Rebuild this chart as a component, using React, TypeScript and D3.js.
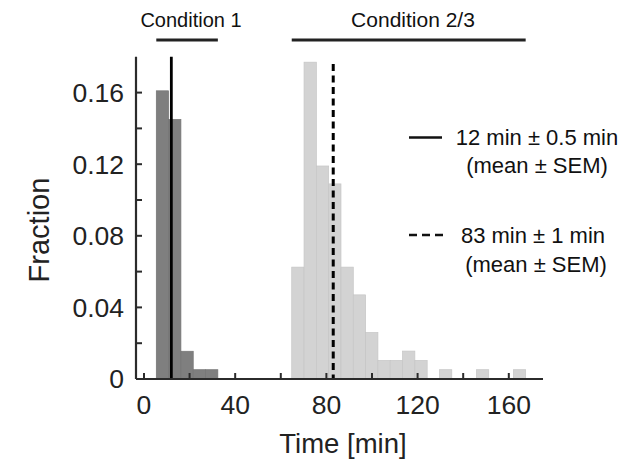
import React from "react";
import * as d3 from "d3";

const binWidth = 5.4;
// Condition 1 histogram: bin index (start = index * binWidth) and fraction
const cond1Bins = [1, 2, 3, 4, 5];
const cond1Values = [0.161, 0.145, 0.0155, 0.0052, 0.0052];
// Condition 2/3 histogram
const cond23Bins = [12, 13, 14, 15, 16, 17, 18, 19, 20, 21, 22, 23, 24, 25, 26, 27, 28, 29, 30];
const cond23Values = [0.0625, 0.177, 0.119, 0.109, 0.0625, 0.047, 0.026, 0.0104, 0.0104, 0.0156, 0.0104, 0, 0.0052, 0, 0, 0.0052, 0, 0, 0.0052];

const mean1 = 12;
const mean23 = 83;
const xTicksMajor = [0, 40, 80, 120, 160];
const xTicksMinor = [0, 20, 40, 60, 80, 100, 120, 140, 160];
const yTicksMajor = [0, 0.04, 0.08, 0.12, 0.16];
const yTicksMinor = [0, 0.02, 0.04, 0.06, 0.08, 0.1, 0.12, 0.14, 0.16];
const yTickLabels = ["0", "0.04", "0.08", "0.12", "0.16"];
const conditionLabels = ["Condition 1", "Condition 2/3"];
const legendLines = [
  ["12 min ± 0.5 min", "(mean ± SEM)"],
  ["83 min ± 1 min", "(mean ± SEM)"],
];

const W = 621;
const H = 469;
const FONT = "'Liberation Sans', Arial, Helvetica, sans-serif";

export default function App() {
  const x = d3.scaleLinear().domain([-3.5, 175]).range([136, 543]);
  const y = d3.scaleLinear().domain([0, 0.18]).range([379, 56.8]);
  const axisColor = "#2b2b2b";

  const bars = (bins: number[], vals: number[], fill: string, stroke: string) =>
    bins.map((b, i) =>
      vals[i] > 0 ? (
        <rect
          key={b}
          x={x(b * binWidth)}
          y={y(vals[i])}
          width={x((b + 1) * binWidth) - x(b * binWidth)}
          height={y(0) - y(vals[i])}
          fill={fill}
          stroke={stroke}
          strokeWidth={0.7}
        />
      ) : null
    );

  const c1Start = cond1Bins[0] * binWidth;
  const c1End = (cond1Bins[cond1Bins.length - 1] + 1) * binWidth;
  const c2Start = cond23Bins[0] * binWidth;
  const c2End = (cond23Bins[cond23Bins.length - 1] + 1) * binWidth;

  return (
    <svg
      width={W}
      height={H}
      style={{ position: "absolute", left: 0, top: 0, background: "#fff" }}
      fontFamily={FONT}
    >
      {bars(cond1Bins, cond1Values, "#7f7f7f", "#747474")}
      {bars(cond23Bins, cond23Values, "#d3d3d3", "#c6c6c6")}

      {/* mean lines */}
      <line x1={x(mean1)} x2={x(mean1)} y1={y(0.18)} y2={y(0)} stroke="#000" strokeWidth={2.8} />
      <line
        x1={x(mean23)}
        x2={x(mean23)}
        y1={y(0.176)}
        y2={y(0)}
        stroke="#000"
        strokeWidth={3}
        strokeDasharray="7,4.5"
      />

      {/* axes */}
      <line x1={x(-3.5)} x2={x(175)} y1={y(0)} y2={y(0)} stroke={axisColor} strokeWidth={2.2} />
      <line x1={x(-3.5)} x2={x(-3.5)} y1={y(0)} y2={y(0.18)} stroke={axisColor} strokeWidth={2.2} />
      {xTicksMinor.map((t) => (
        <line key={"xt" + t} x1={x(t)} x2={x(t)} y1={y(0)} y2={y(0) - 6} stroke={axisColor} strokeWidth={2} />
      ))}
      {yTicksMinor.map((t) => (
        <line key={"yt" + t} x1={x(-3.5)} x2={x(-3.5) + 6} y1={y(t)} y2={y(t)} stroke={axisColor} strokeWidth={2} />
      ))}
      {xTicksMajor.map((t) => (
        <text key={"xl" + t} x={x(t)} y={414} textAnchor="middle" fontSize={26.5} fill="#222">
          {t}
        </text>
      ))}
      {yTicksMajor.map((t, i) => (
        <text key={"yl" + t} x={124} y={y(t) + 9.4} textAnchor="end" fontSize={26.5} fill="#222">
          {yTickLabels[i]}
        </text>
      ))}
      <text x={343} y={453} textAnchor="middle" fontSize={27.5} fill="#222">
        Time [min]
      </text>
      <text transform="translate(49,230) rotate(-90)" textAnchor="middle" fontSize={29} fill="#222">
        Fraction
      </text>

      {/* condition brackets */}
      <line x1={x(c1Start)} x2={x(c1End)} y1={40} y2={40} stroke="#222" strokeWidth={3} />
      <line x1={x(c2Start)} x2={x(c2End)} y1={40} y2={40} stroke="#222" strokeWidth={3} />
      <text x={191} y={27} textAnchor="middle" fontSize={20} fill="#111">
        {conditionLabels[0]}
      </text>
      <text x={413} y={27} textAnchor="middle" fontSize={21} fill="#111">
        {conditionLabels[1]}
      </text>

      {/* legend */}
      <line x1={409} x2={442} y1={137.5} y2={137.5} stroke="#111" strokeWidth={2.5} />
      <text x={537} y={145} textAnchor="middle" fontSize={22} fill="#111">
        {legendLines[0][0]}
      </text>
      <text x={537} y={173} textAnchor="middle" fontSize={22} fill="#111">
        {legendLines[0][1]}
      </text>
      <line x1={409} x2={443} y1={235} y2={235} stroke="#111" strokeWidth={2.5} strokeDasharray="8,5" />
      <text x={533} y={243} textAnchor="middle" fontSize={22} fill="#111">
        {legendLines[1][0]}
      </text>
      <text x={536} y={272} textAnchor="middle" fontSize={22} fill="#111">
        {legendLines[1][1]}
      </text>
    </svg>
  );
}
